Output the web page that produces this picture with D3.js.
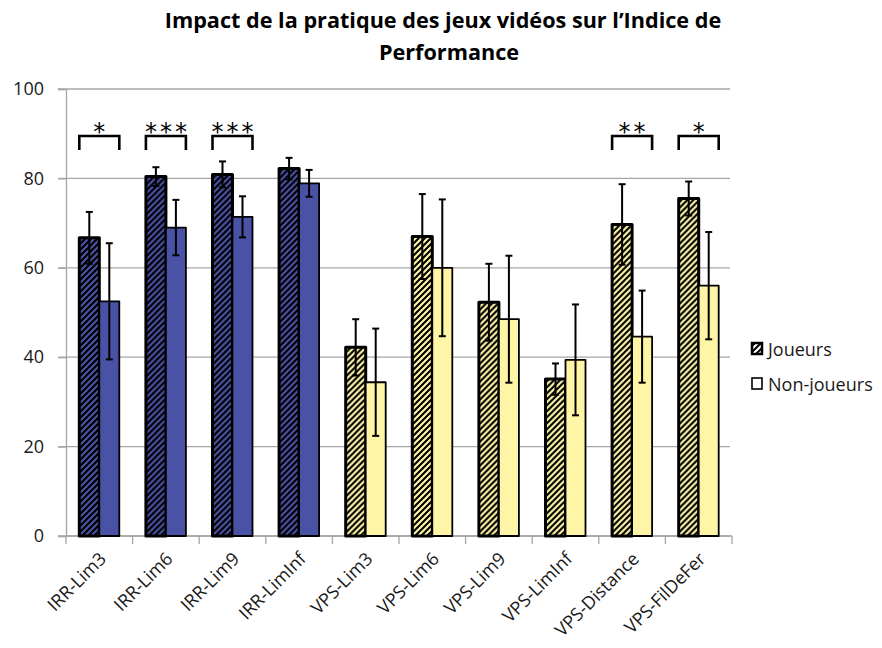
<!DOCTYPE html>
<html>
<head>
<meta charset="utf-8">
<script src="https://cdn.jsdelivr.net/npm/d3@7"></script>
<style>
  html, body { margin: 0; padding: 0; background: #fff; }
  svg { display: block; font-family: "Open Sans", sans-serif; }
</style>
</head>
<body>
<svg id="chart" width="882" height="648"></svg>
<script>
// ---------- data ----------
const categories = ["IRR-Lim3","IRR-Lim6","IRR-Lim9","IRR-LimInf","VPS-Lim3","VPS-Lim6","VPS-Lim9","VPS-LimInf","VPS-Distance","VPS-FilDeFer"];
const joueurs       = [66.7, 80.4, 80.9, 82.2, 42.2, 67.0, 52.3, 35.1, 69.7, 75.5];
const joueursErr    = [5.8, 2.1, 2.9, 2.4, 6.3, 9.5, 8.6, 3.5, 9.0, 3.8];
const nonJoueurs    = [52.5, 69.0, 71.4, 78.9, 34.4, 60.0, 48.5, 39.4, 44.6, 56.0];
const nonJoueursErr = [13.0, 6.2, 4.6, 3.0, 12.0, 15.3, 14.2, 12.4, 10.3, 12.0];
const significance  = ["*","***","***","","","","","","**","*"];
const seriesNames   = ["Joueurs","Non-joueurs"];
const yTicks        = [0, 20, 40, 60, 80, 100];
const titleLines    = ["Impact de la pratique des jeux vidéos sur l\u2019Indice de", "Performance"];

// ---------- styles ----------
const familyColor = { "IRR": "#4A52A6", "VPS": "#FFF5A6" };
const gridColor = "#A6A6A6";
const textColor = "#1a1a1a";

const svg = d3.select("#chart");
const defs = svg.append("defs");

function hatch(id, bg) {
  const p = defs.append("pattern")
    .attr("id", id).attr("patternUnits", "userSpaceOnUse")
    .attr("width", 6).attr("height", 6);
  p.append("rect").attr("width", 6).attr("height", 6).attr("fill", bg);
  p.append("path")
    .attr("d", "M-1,1 L1,-1 M0,6 L6,0 M5,7 L7,5")
    .attr("stroke", "#000").attr("stroke-width", 2.1);
}
hatch("hatch-IRR", familyColor.IRR);
hatch("hatch-VPS", familyColor.VPS);
hatch("hatch-legend", "#fff");

// ---------- scales ----------
const plot = { left: 66, right: 732, top: 89, bottom: 536 };
const y = d3.scaleLinear().domain([0, 100]).range([plot.bottom, plot.top]);
const x0 = d3.scaleBand().domain(categories).range([plot.left, plot.right]).paddingInner(0).paddingOuter(0);
const x1 = d3.scaleBand().domain(seriesNames).range([0, x0.bandwidth()]).paddingInner(0).paddingOuter(0.665);

// ---------- gridlines ----------
svg.append("g").selectAll("line").data(yTicks).join("line")
  .attr("x1", plot.left - 8).attr("x2", 730)
  .attr("y1", d => y(d)).attr("y2", d => y(d))
  .attr("stroke", gridColor).attr("stroke-width", 1.3);

// y axis
const yAxis = svg.append("g").attr("transform", `translate(${plot.left},0)`)
  .call(d3.axisLeft(y).tickValues(yTicks).tickSize(8).tickPadding(14).tickFormat(d3.format("d")));
yAxis.select(".domain").attr("stroke", gridColor).attr("stroke-width", 1.3);
yAxis.selectAll(".tick line").attr("stroke", gridColor).attr("stroke-width", 1.3);
yAxis.selectAll("text").attr("font-size", 18).attr("fill", textColor)
  .attr("font-family", "'Open Sans', sans-serif");

// x axis
const xAxisG = svg.append("g").attr("transform", `translate(0,${plot.bottom})`);
xAxisG.append("line").attr("x1", plot.left).attr("x2", plot.right)
  .attr("stroke", gridColor).attr("stroke-width", 1.3);
const boundaries = categories.map(c => x0(c)).concat([x0(categories[categories.length - 1]) + x0.bandwidth()]);
xAxisG.selectAll("line.tk").data(boundaries).join("line").attr("class", "tk")
  .attr("x1", d => d).attr("x2", d => d).attr("y1", 0).attr("y2", 8)
  .attr("stroke", gridColor).attr("stroke-width", 1.3);
xAxisG.selectAll("text").data(categories).join("text")
  .attr("transform", d => `translate(${x0(d) + x0.bandwidth() / 2 + 8},${24}) rotate(-45)`)
  .attr("text-anchor", "end")
  .attr("font-size", 18).attr("fill", textColor)
  .text(d => d);

// ---------- bars ----------
const rows = categories.map((c, i) => ({
  cat: c, fam: c.split("-")[0],
  vals: [
    { s: seriesNames[0], v: joueurs[i], e: joueursErr[i] },
    { s: seriesNames[1], v: nonJoueurs[i], e: nonJoueursErr[i] }
  ],
  sig: significance[i]
}));

const groups = svg.append("g").selectAll("g").data(rows).join("g")
  .attr("transform", d => `translate(${x0(d.cat)},0)`);

groups.each(function(row) {
  const g = d3.select(this);
  row.vals.forEach((b, k) => {
    const bx = x1(b.s), bw = x1.bandwidth();
    g.append("rect")
      .attr("x", bx).attr("width", bw)
      .attr("y", y(b.v)).attr("height", y(0) - y(b.v))
      .attr("fill", k === 0 ? `url(#hatch-${row.fam})` : familyColor[row.fam])
      .attr("stroke", "#000")
      .attr("stroke-width", k === 0 ? 3 : 1.8)
      .attr("stroke-linejoin", "round");
  });
  row.vals.forEach(b => {
    const cx = x1(b.s) + x1.bandwidth() / 2;
    const eg = g.append("g").attr("stroke", "#000").attr("stroke-width", 2);
    eg.append("line").attr("x1", cx).attr("x2", cx).attr("y1", y(b.v + b.e)).attr("y2", y(b.v - b.e));
    eg.append("line").attr("x1", cx - 3.5).attr("x2", cx + 3.5).attr("y1", y(b.v + b.e)).attr("y2", y(b.v + b.e));
    eg.append("line").attr("x1", cx - 3.5).attr("x2", cx + 3.5).attr("y1", y(b.v - b.e)).attr("y2", y(b.v - b.e));
  });
  if (row.sig) {
    const xl = x1(seriesNames[0]), xr = x1(seriesNames[1]) + x1.bandwidth();
    const topY = 136, legY = 150;
    g.append("path")
      .attr("d", `M${xl},${legY} L${xl},${topY} L${xr},${topY} L${xr},${legY}`)
      .attr("fill", "none").attr("stroke", "#000").attr("stroke-width", 2.6);
    g.append("text")
      .attr("x", (xl + xr) / 2 + 1.5).attr("y", 140)
      .attr("text-anchor", "middle")
      .attr("font-size", 24).attr("letter-spacing", 3)
      .attr("font-family", "'DejaVu Sans', sans-serif")
      .attr("fill", "#000")
      .text(row.sig);
  }
});

// ---------- legend ----------
const legend = svg.append("g");
const legendItems = [
  { name: seriesNames[0], fill: "url(#hatch-legend)", sw: 2.5, y: 343 },
  { name: seriesNames[1], fill: "#fff", sw: 1.6, y: 378 }
];
legendItems.forEach(it => {
  legend.append("rect").attr("x", 752).attr("y", it.y).attr("width", 10).attr("height", 11)
    .attr("fill", it.fill).attr("stroke", "#000").attr("stroke-width", it.sw);
  legend.append("text").attr("x", 768).attr("y", it.y + 13)
    .attr("font-size", 18).attr("fill", textColor).text(it.name);
});

// ---------- title ----------
const title = svg.append("g");
const t1 = title.append("text").attr("x", 443).attr("y", 28).attr("text-anchor", "middle")
  .attr("font-weight", "bold").attr("font-size", 22).attr("fill", "#000").text(titleLines[0]);
const w = t1.node().getComputedTextLength();
const fs = 22 * 557 / w;
t1.attr("font-size", fs);
title.append("text").attr("x", 449).attr("y", 60).attr("text-anchor", "middle")
  .attr("font-weight", "bold").attr("font-size", fs).attr("fill", "#000").text(titleLines[1]);
</script>
</body>
</html>
